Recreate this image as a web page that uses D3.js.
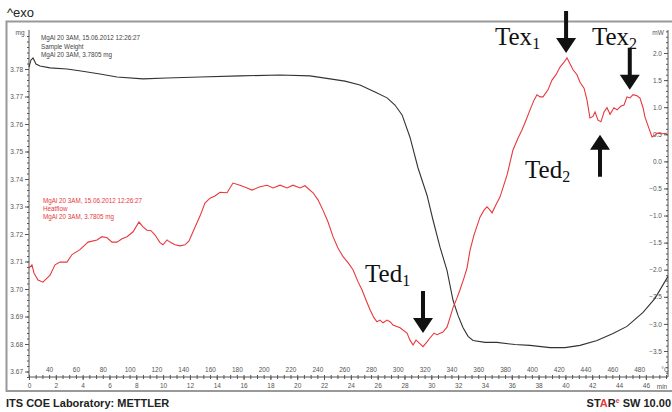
<!DOCTYPE html>
<html>
<head>
<meta charset="utf-8">
<script src="https://cdn.jsdelivr.net/npm/d3@7"></script>
<style>
  body { margin: 0; background: #fff; }
  svg { display: block; }
  .tick text { font-family: "Liberation Sans", Arial, sans-serif; font-size: 6.5px; fill: #555; }
  .tick line { stroke: #555; }
</style>
</head>
<body>
<div id="chart"></div>
<script>
// sample weight (mg) vs time (min)
var weightTime = [0, 0.15, 0.30, 0.52, 0.82, 1.57, 2.83, 4.0, 5.29, 6.56, 8.50, 10.29, 12.75, 15.73, 18.72,
  20.95, 22.45, 23.56, 24.68, 25.80, 26.70, 27.29, 27.82, 28.41, 29.01, 29.68, 30.13, 30.65, 31.17, 31.62,
  31.99, 32.36, 32.74, 33.11, 34.01, 34.90, 36.24, 37.36, 38.85, 39.97, 41.09, 42.36, 43.55, 44.59, 45.79,
  46.68, 47.65];
var weightMg = [3.7807, 3.7833, 3.7840, 3.7818, 3.7811, 3.7804, 3.7800, 3.7792, 3.7782, 3.7771, 3.7764,
  3.7767, 3.7771, 3.7775, 3.7778, 3.7775, 3.7764, 3.7756, 3.7742, 3.7716, 3.7695, 3.7669, 3.7633, 3.7552,
  3.7440, 3.7341, 3.7250, 3.7152, 3.7068, 3.6959, 3.6904, 3.6860, 3.6828, 3.6813, 3.6806, 3.6806, 3.6798,
  3.6795, 3.6787, 3.6787, 3.6795, 3.6813, 3.6838, 3.6864, 3.6915, 3.6966, 3.7046];

// heat flow (mW) vs time (min)
var heatTime = [0, 0.22, 0.37, 0.67, 1.04, 1.57, 1.94, 2.31, 2.83, 3.21, 3.80, 4.18, 4.40, 5.07, 5.44, 5.82,
  6.19, 6.56, 6.94, 7.31, 7.76, 8.20, 8.50, 8.80, 9.10, 9.40, 9.77, 9.99, 10.29, 10.51, 10.89, 11.26, 11.63,
  11.93, 12.23, 12.75, 13.12, 13.50, 13.87, 14.24, 14.77, 15.21, 15.73, 16.26, 16.63, 17.23, 17.75, 18.20,
  18.72, 19.24, 19.69, 20.21, 20.58, 21.18, 21.55, 21.92, 22.30, 22.67, 23.04, 23.42, 23.79, 24.16, 24.53,
  24.83, 25.13, 25.43, 25.73, 25.95, 26.17, 26.40, 26.70, 26.92, 27.14, 27.67, 28.19, 28.41, 28.64, 28.86,
  29.01, 29.38, 29.68, 29.90, 30.20, 30.42, 30.87, 31.17, 31.39, 31.62, 31.92, 32.14, 32.44, 32.66, 32.89,
  33.18, 33.63, 33.93, 34.15, 34.38, 34.53, 34.82, 35.12, 35.65, 36.09, 36.47, 36.76, 37.06, 37.36, 37.66,
  37.88, 38.11, 38.33, 38.70, 39.00, 39.30, 39.60, 39.90, 40.12, 40.34, 40.57, 40.86, 41.09, 41.39, 41.61,
  41.83, 42.06, 42.21, 42.43, 42.65, 42.88, 43.10, 43.33, 43.62, 43.85, 44.15, 44.37, 44.59, 44.82, 45.04,
  45.34, 45.56, 45.79, 45.93, 46.23, 46.46, 46.68, 46.83, 47.20, 47.58];
var heatMw = [-1.97, -1.91, -2.06, -2.19, -2.23, -2.10, -1.91, -1.86, -1.86, -1.72, -1.63, -1.54, -1.49,
  -1.45, -1.39, -1.41, -1.49, -1.49, -1.43, -1.39, -1.30, -1.12, -1.21, -1.27, -1.28, -1.36, -1.50, -1.54,
  -1.45, -1.49, -1.54, -1.56, -1.54, -1.47, -1.30, -1.01, -0.77, -0.68, -0.64, -0.57, -0.58, -0.40, -0.44,
  -0.49, -0.53, -0.47, -0.44, -0.49, -0.44, -0.49, -0.44, -0.49, -0.45, -0.58, -0.71, -0.90, -1.12, -1.39,
  -1.60, -1.76, -1.87, -2.00, -2.22, -2.37, -2.56, -2.74, -2.89, -2.96, -2.93, -2.98, -2.93, -2.96, -3.02,
  -3.07, -3.17, -3.30, -3.39, -3.30, -3.33, -3.42, -3.33, -3.26, -3.17, -3.20, -3.15, -3.06, -2.89, -2.70,
  -2.52, -2.37, -2.15, -1.97, -1.64, -1.36, -1.03, -0.90, -0.84, -0.90, -0.95, -0.80, -0.66, -0.25, 0.21,
  0.43, 0.58, 0.76, 0.95, 1.13, 1.23, 1.19, 1.19, 1.32, 1.50, 1.60, 1.74, 1.83, 1.91, 1.80, 1.69, 1.60,
  1.46, 1.35, 1.13, 0.80, 0.83, 0.91, 0.76, 0.73, 0.91, 0.99, 0.87, 0.99, 0.95, 1.02, 1.04, 1.19, 1.17,
  1.23, 1.21, 1.17, 0.99, 0.82, 0.61, 0.45, 0.48, 0.52, 0.51, 0.52];

var minTicks = [0, 2, 4, 6, 8, 10, 12, 14, 16, 18, 20, 22, 24, 26, 28, 30, 32, 34, 36, 38, 40, 42, 44, 46];
var tempTicks = [40, 60, 80, 100, 120, 140, 160, 180, 200, 220, 240, 260, 280, 300, 320, 340, 360, 380,
  400, 420, 440, 460, 480];
var mgTicks = [3.67, 3.68, 3.69, 3.70, 3.71, 3.72, 3.73, 3.74, 3.75, 3.76, 3.77, 3.78];
var mwTicks = [-3.5, -3.0, -2.5, -2.0, -1.5, -1.0, -0.5, 0.0, 0.5, 1.0, 1.5, 2.0];

var headerWeight = ["MgAl 20 3AM, 15.06.2012 12:26:27", "Sample Weight", "MgAl 20 3AM, 3.7805 mg"];
var headerHeat = ["MgAl 20 3AM, 15.06.2012 12:26:27", "Heatflow", "MgAl 20 3AM, 3.7805 mg"];

var annoLabels = [
  {main: "Tex", sub: "1", t: 34.75, mw: 2.15},
  {main: "Tex", sub: "2", t: 41.98, mw: 2.15},
  {main: "Ted", sub: "2", t: 36.99, mw: -0.31},
  {main: "Ted", sub: "1", t: 25.06, mw: -2.22}
];
var annoArrows = [
  {t: 40.05, mw: 2.0, dir: "down"},
  {t: 44.8, mw: 1.32, dir: "down"},
  {t: 42.58, mw: 0.49, dir: "up"},
  {t: 29.38, mw: -3.17, dir: "down"}
];

var width = 672, height = 412;
var left = 29, right = 668, axisTop = 30, axisY = 377;
var red = "#e8383d", dark = "#333";

var svg = d3.select("#chart").append("svg")
  .attr("width", width)
  .attr("height", height);

var x = d3.scaleLinear().domain([0, 47.65]).range([left, right]);
var xTemp = d3.scaleLinear().domain([25, 501.5]).range([left, right]);
var yMg = d3.scaleLinear().domain([3.67, 3.78]).range([371.5, 69]);
var yMw = d3.scaleLinear().domain([-3.5, 2.0]).range([351, 53]);

// frame
svg.append("rect")
  .attr("x", 6.5).attr("y", 21.5)
  .attr("width", 680).attr("height", 369.5)
  .attr("fill", "none").attr("stroke", "#999").attr("stroke-width", 2);

svg.append("text")
  .attr("x", 7).attr("y", 17)
  .style("font-family", "Liberation Sans, Arial, sans-serif")
  .style("font-size", "13px").style("fill", "#222")
  .text("^exo");

// axis lines
svg.append("line").attr("x1", left).attr("x2", left).attr("y1", axisTop).attr("y2", axisY)
  .attr("stroke", "#555");
svg.append("line").attr("x1", right).attr("x2", right).attr("y1", axisTop).attr("y2", axisY)
  .attr("stroke", "#555");
svg.append("line").attr("x1", left).attr("x2", right).attr("y1", axisY).attr("y2", axisY)
  .attr("stroke", "#555");

// left axis (mg)
svg.append("g")
  .attr("transform", "translate(" + left + ",0)")
  .call(d3.axisLeft(yMg).tickValues(mgTicks).tickFormat(d3.format(".2f")).tickSize(4).tickPadding(2))
  .call(g => g.select(".domain").remove());
svg.append("g")
  .attr("transform", "translate(" + left + ",0)")
  .call(d3.axisLeft(yMg).tickValues(d3.range(3.668, 3.794, 0.002)).tickFormat("").tickSize(2))
  .call(g => g.select(".domain").remove());

// right axis (mW)
svg.append("g")
  .attr("transform", "translate(" + right + ",0)")
  .call(d3.axisLeft(yMw).tickValues(mwTicks).tickFormat(d3.format(".1f")).tickSize(4).tickPadding(2))
  .call(g => g.select(".domain").remove());
svg.append("g")
  .attr("transform", "translate(" + right + ",0)")
  .call(d3.axisLeft(yMw).tickValues(d3.range(-3.9, 2.41, 0.1)).tickFormat("").tickSize(2))
  .call(g => g.select(".domain").remove());

// time axis (min) and temperature labels
svg.append("g")
  .attr("transform", "translate(0," + axisY + ")")
  .call(d3.axisBottom(x).tickValues(minTicks).tickSize(3).tickPadding(3))
  .call(g => g.select(".domain").remove());
svg.append("g")
  .attr("transform", "translate(0," + axisY + ")")
  .call(d3.axisBottom(x).tickValues(d3.range(0, 47.6, 0.5)).tickFormat("").tickSizeInner(2).tickSizeOuter(0))
  .call(g => g.select(".domain").remove())
  .call(g => g.selectAll(".tick line").attr("y1", -2));
svg.append("g")
  .attr("transform", "translate(0," + axisY + ")")
  .call(d3.axisTop(xTemp).tickValues(tempTicks).tickSize(0).tickPadding(5))
  .call(g => g.select(".domain").remove());

var unitStyle = function (sel) {
  sel.style("font-family", "Liberation Sans, Arial, sans-serif").style("font-size", "6.5px")
    .style("fill", "#555");
};
svg.append("text").attr("x", 20).attr("y", 35).attr("text-anchor", "middle").text("mg").call(unitStyle);
svg.append("text").attr("x", 658).attr("y", 35).attr("text-anchor", "middle").text("mW").call(unitStyle);
svg.append("text").attr("x", 665).attr("y", 372).attr("text-anchor", "middle").text("°C").call(unitStyle);
svg.append("text").attr("x", 662).attr("y", 389).attr("text-anchor", "middle").text("min").call(unitStyle);

// curve headers
svg.append("g").selectAll("text")
  .data(headerWeight).enter().append("text")
  .attr("x", 41).attr("y", (d, i) => 40 + i * 8.5)
  .style("font-family", "Liberation Sans, Arial, sans-serif").style("font-size", "6.3px")
  .style("fill", "#444")
  .text(d => d);
svg.append("g").selectAll("text")
  .data(headerHeat).enter().append("text")
  .attr("x", 43).attr("y", (d, i) => 203 + i * 8.2)
  .style("font-family", "Liberation Sans, Arial, sans-serif").style("font-size", "6.3px")
  .style("fill", red)
  .text(d => d);

// curves
var weightLine = d3.line()
  .x((d, i) => x(weightTime[i]))
  .y(d => yMg(d));
var heatLine = d3.line()
  .x((d, i) => x(heatTime[i]))
  .y(d => yMw(d));

svg.append("path").datum(weightMg)
  .attr("d", weightLine)
  .attr("fill", "none").attr("stroke", dark).attr("stroke-width", 1.1);
svg.append("path").datum(heatMw)
  .attr("d", heatLine)
  .attr("fill", "none").attr("stroke", red).attr("stroke-width", 1.1);

// annotations
var labels = svg.append("g").selectAll("text")
  .data(annoLabels).enter().append("text")
  .attr("x", d => x(d.t)).attr("y", d => yMw(d.mw))
  .style("font-family", "Liberation Serif, Times New Roman, serif").style("font-size", "25px")
  .style("fill", "#111");
labels.append("tspan").text(d => d.main);
labels.append("tspan").attr("dy", 4).style("font-size", "16px").text(d => d.sub);

var arrowPath = function (d) {
  var tx = x(d.t), ty = yMw(d.mw), s = d.dir === "down" ? -1 : 1;
  var len = 42, head = 15, hw = 10, sw = 2;
  return "M" + tx + "," + ty +
    "L" + (tx - hw) + "," + (ty + s * head) +
    "L" + (tx - sw) + "," + (ty + s * head) +
    "L" + (tx - sw) + "," + (ty + s * len) +
    "L" + (tx + sw) + "," + (ty + s * len) +
    "L" + (tx + sw) + "," + (ty + s * head) +
    "L" + (tx + hw) + "," + (ty + s * head) + "Z";
};
svg.append("g").selectAll("path")
  .data(annoArrows).enter().append("path")
  .attr("d", arrowPath)
  .attr("fill", "#111");

// footer
var foot = function (sel) {
  sel.style("font-family", "Liberation Sans, Arial, sans-serif").style("font-size", "11px")
    .style("font-weight", "bold").style("fill", "#222");
};
svg.append("text").attr("x", 6).attr("y", 407).text("ITS COE Laboratory: METTLER").call(foot);
var star = svg.append("text").attr("x", 671).attr("y", 407).attr("text-anchor", "end").call(foot);
star.append("tspan").text("ST");
star.append("tspan").style("fill", red).text("A");
star.append("tspan").text("R");
star.append("tspan").attr("dy", -4).style("font-size", "7px").style("fill", red).text("e");
star.append("tspan").attr("dy", 4).text(" SW 10.00");
</script>
</body>
</html>
